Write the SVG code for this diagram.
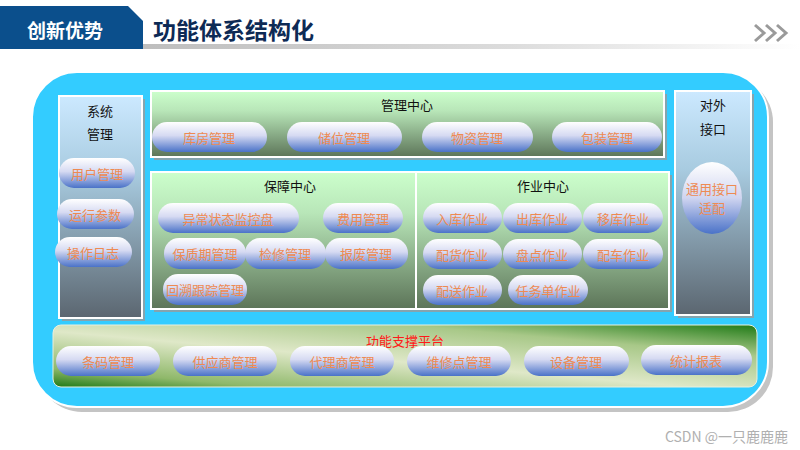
<svg xmlns="http://www.w3.org/2000/svg" width="800" height="450" viewBox="0 0 800 450">
<defs>
  <linearGradient id="barG" x1="0" y1="0" x2="1" y2="0">
    <stop offset="0" stop-color="#b8b8b8"/>
    <stop offset="0.6" stop-color="#dcdcdc"/>
    <stop offset="1" stop-color="#ffffff"/>
  </linearGradient>
  <linearGradient id="pillG" x1="0" y1="0" x2="0" y2="1">
    <stop offset="0" stop-color="#ffffff"/>
    <stop offset="0.45" stop-color="#d6daf2"/>
    <stop offset="1" stop-color="#4a72c8"/>
  </linearGradient>
  <linearGradient id="sideG" x1="0" y1="0" x2="0" y2="1">
    <stop offset="0" stop-color="#cce9ff"/>
    <stop offset="0.35" stop-color="#a8cbe0"/>
    <stop offset="1" stop-color="#5b6670"/>
  </linearGradient>
  <linearGradient id="greenG" x1="0" y1="0" x2="0" y2="1">
    <stop offset="0" stop-color="#ccffcc"/>
    <stop offset="0.3" stop-color="#b8e6b8"/>
    <stop offset="1" stop-color="#5c7458"/>
  </linearGradient>
  <linearGradient id="platG" x1="0" y1="1" x2="1" y2="0">
    <stop offset="0" stop-color="#1f7a16"/>
    <stop offset="0.15" stop-color="#8fb86a"/>
    <stop offset="0.45" stop-color="#dfe8c8"/>
    <stop offset="0.75" stop-color="#a8c888"/>
    <stop offset="1" stop-color="#1f7a16"/>
  </linearGradient>
  <linearGradient id="ellLG" x1="0" y1="0" x2="0" y2="1">
    <stop offset="0" stop-color="#ffffff"/>
    <stop offset="0.5" stop-color="#d0d5f0"/>
    <stop offset="1" stop-color="#4a72c8"/>
  </linearGradient>
</defs>
<style>
  .pill { fill: url(#pillG); }
  .pt { font-family: "Noto Sans CJK SC", "Liberation Sans", sans-serif; font-size: 13px; fill: #ee8a52; text-anchor: middle; dominant-baseline: central; }
  .lbl { font-family: "Noto Sans CJK SC", "Liberation Sans", sans-serif; font-size: 13px; fill: #111; text-anchor: middle; dominant-baseline: central; }
  .panel { stroke: #ffffff; stroke-width: 2; }
  .shadow { fill: #9a9a9a; opacity: 0.8; }
</style>

<!-- header -->
<g id="header">
  <rect x="75" y="44" width="725" height="5" fill="url(#barG)"/>
  <path d="M0 6 H128 L143 21 V49 H0 Z" fill="#0b4f8c"/>
  <text x="65" y="29" font-family="'Noto Sans CJK SC', sans-serif" font-size="19" font-weight="bold" fill="#ffffff" text-anchor="middle" dominant-baseline="central">创新优势</text>
  <text x="153" y="29" font-family="'Noto Sans CJK SC', sans-serif" font-size="23" font-weight="bold" fill="#0d2a55" dominant-baseline="central">功能体系结构化</text>
  <g fill="none" stroke="#9a9a9a" stroke-width="3">
    <path d="M755 25 L764 33 L755 41"/>
    <path d="M766 25 L775 33 L766 41"/>
    <path d="M777 25 L786 33 L777 41"/>
  </g>
</g>

<!-- main container -->
<g id="container">
  <rect x="37" y="77" width="736" height="335" rx="45" fill="#c4c4c4"/>
  <rect x="32" y="72" width="736" height="335" rx="45" fill="#33ccff" stroke="#ffffff" stroke-width="2"/>
</g>

<!-- system management -->
<g id="sysmgmt">
  <rect x="62" y="99" width="83" height="222" class="shadow"/>
  <rect x="59" y="96" width="83" height="222" fill="url(#sideG)" class="panel"/>
  <text x="100" y="110" class="lbl">系统</text>
  <text x="100" y="133" class="lbl">管理</text>
  <rect x="59" y="158" width="76" height="30" rx="15" class="pill"/>
  <text x="97" y="173" class="pt">用户管理</text>
  <rect x="57" y="199" width="77" height="30" rx="15" class="pill"/>
  <text x="95" y="214" class="pt">运行参数</text>
  <rect x="55" y="237" width="77" height="30" rx="15" class="pill"/>
  <text x="93" y="252" class="pt">操作日志</text>
</g>

<!-- management center -->
<g id="mgmtcenter">
  <rect x="154" y="94" width="513" height="66" class="shadow"/>
  <rect x="151" y="91" width="513" height="66" fill="url(#greenG)" class="panel"/>
  <text x="407" y="104" class="lbl">管理中心</text>
  <rect x="152" y="122" width="115" height="30" rx="15" class="pill"/>
  <text x="209" y="137" class="pt">库房管理</text>
  <rect x="287" y="122" width="115" height="30" rx="15" class="pill"/>
  <text x="344" y="137" class="pt">储位管理</text>
  <rect x="422" y="122" width="111" height="30" rx="15" class="pill"/>
  <text x="477" y="137" class="pt">物资管理</text>
  <rect x="552" y="122" width="110" height="30" rx="15" class="pill"/>
  <text x="607" y="137" class="pt">包装管理</text>
</g>

<!-- guarantee center -->
<g id="guarantee">
  <rect x="154" y="175" width="518" height="137" class="shadow"/>
  <rect x="151" y="172" width="265" height="137" fill="url(#greenG)" class="panel"/>
  <text x="290" y="185" class="lbl">保障中心</text>
  <rect x="158" y="203" width="141" height="30" rx="15" class="pill"/>
  <text x="228" y="218" class="pt">异常状态监控盘</text>
  <rect x="323" y="203" width="80" height="30" rx="15" class="pill"/>
  <text x="363" y="218" class="pt">费用管理</text>
  <rect x="164" y="238" width="82" height="31" rx="15" class="pill"/>
  <text x="205" y="253" class="pt">保质期管理</text>
  <rect x="245" y="238" width="81" height="31" rx="15" class="pill"/>
  <text x="285" y="253" class="pt">检修管理</text>
  <rect x="325" y="238" width="83" height="31" rx="15" class="pill"/>
  <text x="366" y="253" class="pt">报废管理</text>
  <rect x="163" y="274" width="84" height="31" rx="15" class="pill"/>
  <text x="205" y="289" class="pt">回溯跟踪管理</text>
</g>

<!-- operations center -->
<g id="operations">
  <rect x="416" y="172" width="253" height="137" fill="url(#greenG)" class="panel"/>
  <text x="543" y="185" class="lbl">作业中心</text>
  <rect x="423" y="203" width="79" height="30" rx="15" class="pill"/>
  <text x="462" y="218" class="pt">入库作业</text>
  <rect x="503" y="203" width="79" height="30" rx="15" class="pill"/>
  <text x="542" y="218" class="pt">出库作业</text>
  <rect x="583" y="203" width="80" height="30" rx="15" class="pill"/>
  <text x="623" y="218" class="pt">移库作业</text>
  <rect x="423" y="239" width="79" height="30" rx="15" class="pill"/>
  <text x="462" y="254" class="pt">配货作业</text>
  <rect x="503" y="239" width="79" height="30" rx="15" class="pill"/>
  <text x="542" y="254" class="pt">盘点作业</text>
  <rect x="583" y="239" width="80" height="30" rx="15" class="pill"/>
  <text x="623" y="254" class="pt">配车作业</text>
  <rect x="423" y="275" width="79" height="30" rx="15" class="pill"/>
  <text x="462" y="290" class="pt">配送作业</text>
  <rect x="508" y="275" width="80" height="30" rx="15" class="pill"/>
  <text x="548" y="290" class="pt">任务单作业</text>
</g>

<!-- external interface -->
<g id="external">
  <rect x="678" y="94" width="76" height="224" class="shadow"/>
  <rect x="675" y="91" width="76" height="224" fill="url(#sideG)" class="panel"/>
  <text x="713" y="104" class="lbl">对外</text>
  <text x="713" y="128" class="lbl">接口</text>
  <ellipse cx="712" cy="198" rx="30" ry="36" fill="url(#ellLG)"/>
  <text x="712" y="188" class="pt">通用接口</text>
  <text x="712" y="207" class="pt">适配</text>
</g>

<!-- support platform -->
<g id="platform">
  <rect x="53" y="325" width="704" height="62" rx="8" fill="url(#platG)" stroke="#e8f0e0" stroke-width="1"/>
  <text x="405" y="340" class="pt" style="fill:#ff1a1a">功能支撑平台</text>
  <rect x="56" y="346" width="104" height="30" rx="15" class="pill"/>
  <text x="108" y="361" class="pt">条码管理</text>
  <rect x="173" y="346" width="104" height="30" rx="15" class="pill"/>
  <text x="225" y="361" class="pt">供应商管理</text>
  <rect x="290" y="346" width="104" height="30" rx="15" class="pill"/>
  <text x="342" y="361" class="pt">代理商管理</text>
  <rect x="407" y="346" width="104" height="30" rx="15" class="pill"/>
  <text x="459" y="361" class="pt">维修点管理</text>
  <rect x="524" y="346" width="105" height="30" rx="15" class="pill"/>
  <text x="576" y="361" class="pt">设备管理</text>
  <rect x="641" y="345" width="111" height="30" rx="15" class="pill"/>
  <text x="696" y="360" class="pt">统计报表</text>
</g>

<g id="connectors"></g>

<text x="788" y="436" font-family="'Noto Sans CJK SC', 'Liberation Sans', sans-serif" font-size="14" fill="#b0b0b0" text-anchor="end" dominant-baseline="central">CSDN @一只鹿鹿鹿</text>
</svg>
